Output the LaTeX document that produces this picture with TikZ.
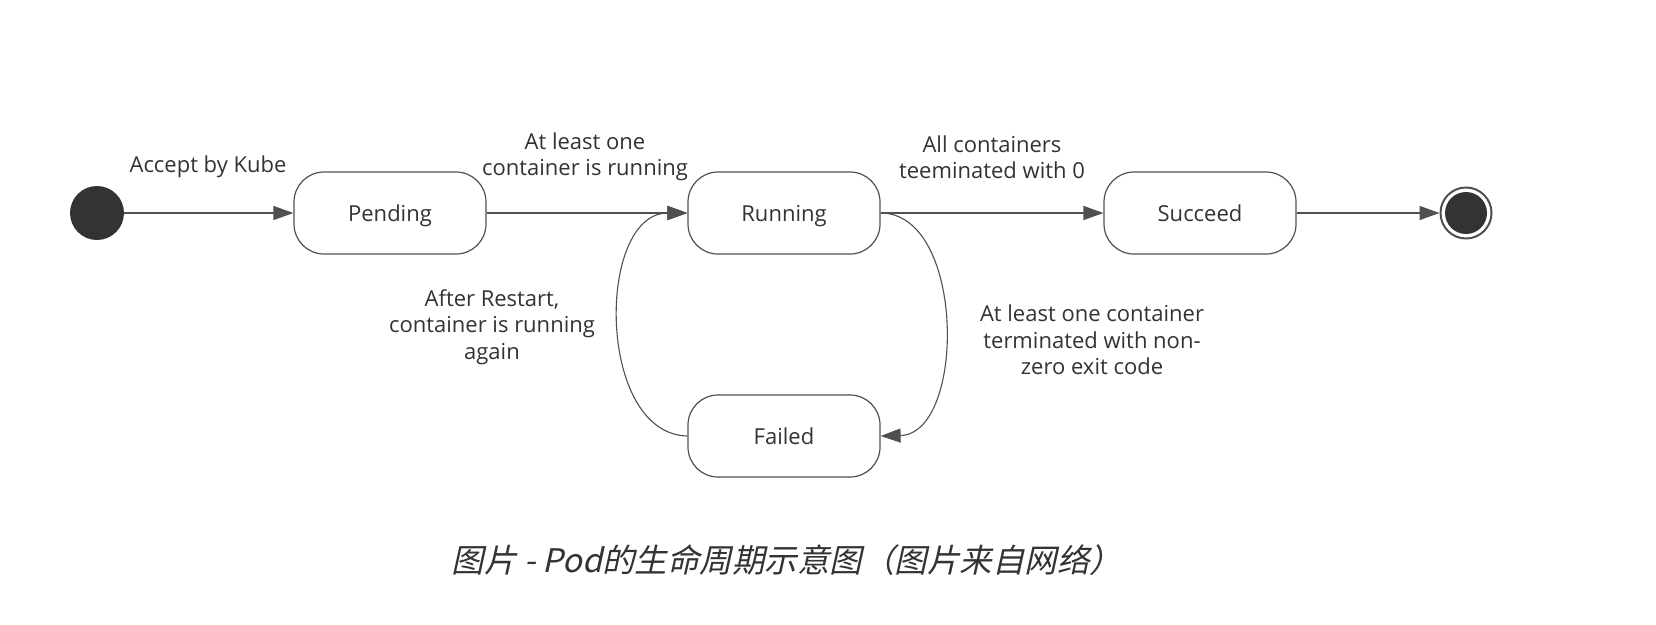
\documentclass[tikz,border=0pt]{standalone}
\usepackage{fontspec}
\setmainfont{Open Sans}
\newfontfamily\cjkcap[FakeSlant=0.22]{Noto Sans CJK SC}
\usetikzlibrary{arrows.meta}
\definecolor{txt}{HTML}{333333}
\definecolor{ln}{HTML}{505050}
\begin{document}
\begin{tikzpicture}[x=1pt,y=-1pt,
  statebox/.style={draw=ln, line width=1.2pt, rounded corners=30pt, minimum width=192pt, minimum height=82pt, text=txt, font=\fontsize{22pt}{26pt}\selectfont, inner sep=0pt, text height=16pt, text depth=0pt},
  lbl/.style={text=txt, align=center, font=\fontsize{22pt}{26.5pt}\selectfont, inner sep=0pt},
  conn/.style={draw=ln, line width=1.4pt, -{Triangle[length=20pt,width=14pt]}},
  curv/.style={draw=ln, line width=1.1pt, -{Triangle[length=20pt,width=14pt]}}]
\useasboundingbox[fill=white] (0,0) rectangle (1656,624);
\node[circle, fill=txt, minimum size=54pt, inner sep=0pt] (start) at (97,213) {};
\node[statebox] (pending) at (390,213) {Pending};
\node[statebox] (running) at (784,213) {Running};
\node[statebox] (succeed) at (1200,213) {Succeed};
\node[statebox] (failed) at (784,436) {Failed};
\node[circle, draw=ln, line width=2pt, fill=white, minimum size=51pt, inner sep=0pt] (end) at (1466,213) {};
\node[circle, fill=txt, minimum size=42pt, inner sep=0pt] (endin) at (end.center) {};
\draw[conn] (start) -- (pending);
\draw[conn] (pending) -- (running);
\draw[conn] (running) -- (succeed);
\draw[conn] (succeed) -- (end);
\draw[curv] (running.east) .. controls (966,213) and (966,434) .. (failed.east);
\draw[curv] (failed.west) .. controls (596,434) and (596,213) .. (running.west);
\node[lbl] (l1) at (208,167) {Accept by Kube};
\node[lbl] (l2) at (585,157) {At least one\\container is running};
\node[lbl] (l3) at (992,157) {All containers\\teeminated with 0};
\node[lbl] (l4) at (492,327) {After Restart,\\container is running\\again};
\node[lbl] (l5) at (1092,340) {At least one container\\terminated with non-\\zero exit code};
\node[text=txt, inner sep=0pt, font=\cjkcap\fontsize{32.5pt}{36pt}\selectfont] (cap) at (787,560) {图片 - Pod的生命周期示意图（图片来自网络）};
\end{tikzpicture}
\end{document}
